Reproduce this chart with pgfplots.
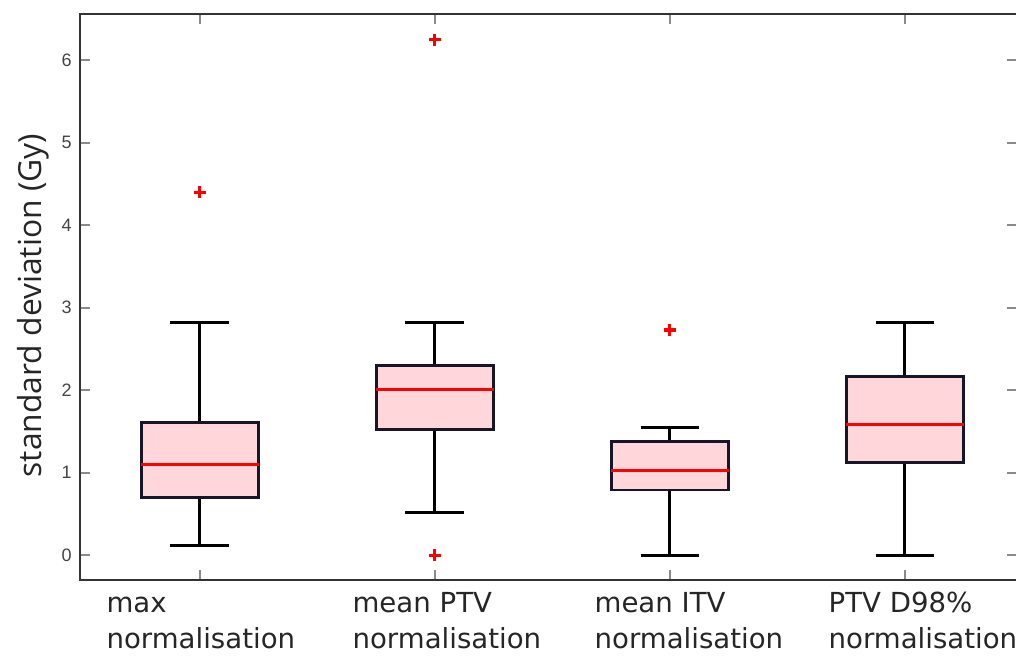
\documentclass[border=0pt]{standalone}
\usepackage{fontspec}
\setmainfont{DejaVu Sans}
\newfontfamily\tickfont{Liberation Sans}
\newfontfamily\ylabfont{Open Sans}
\usepackage{pgfplots}
\pgfplotsset{compat=1.18}
\usepgfplotslibrary{statistics}

\definecolor{boxfill}{HTML}{FFD6D9}
\definecolor{boxedge}{HTML}{16162A}
\definecolor{axisgray}{HTML}{333333}
\definecolor{tickgray}{HTML}{8A8A8A}
\definecolor{numgray}{HTML}{444444}

\begin{document}
\begin{tikzpicture}
\begin{axis}[
    name=ax,
    scale only axis,
    width=468.5pt, height=283pt,
    xmin=0.49, xmax=4.477,
    ymin=-0.30, ymax=6.56,
    axis line style={axisgray, line width=1.3pt},
    tick style={tickgray, line width=0.8pt},
    major tick length=5pt,
    tick align=inside,
    xtick={1,2,3,4},
    xticklabels={
      {\hspace*{1pt}\begin{tabular}{@{}l@{}}max\\normalisation\end{tabular}},
      {\hspace*{12pt}\begin{tabular}{@{}l@{}}mean PTV\\normalisation\end{tabular}},
      {\hspace*{19pt}\begin{tabular}{@{}l@{}}mean ITV\\normalisation\end{tabular}},
      {\hspace*{18pt}\begin{tabular}{@{}l@{}}PTV D98\%\\normalisation\end{tabular}}},
    xticklabel style={anchor=north, inner sep=0pt, yshift=-3.4pt,
      font=\fontsize{13.8}{18}\selectfont, color=black!85},
    ytick={0,1,2,3,4,5,6},
    yticklabel style={inner sep=0pt, xshift=-4pt,
      font=\tickfont\fontsize{9}{10}\selectfont, color=numgray},
    /pgf/number format/assume math mode=true,
    ylabel={standard deviation (Gy)},
    ylabel style={at={(ticklabel cs:0.485)}, inner sep=0pt, color=black!85,
      font=\ylabfont\fontsize{15.9}{18}\selectfont},
    ylabel shift=6pt,
    boxplot/draw direction=y,
    boxplot/box extend=0.5,
    boxplot/whisker extend=0.25,
    boxplot/every box/.style={draw=boxedge, fill=boxfill, line width=1.4pt},
    boxplot/every median/.style={draw=red, line width=1.5pt},
    boxplot/every whisker/.style={draw=black, line width=1.5pt},
    mark=+, mark size=3pt,
    mark options={draw=red, line width=1.6pt},
  ]
  % max normalisation
  \addplot[boxplot prepared={draw position=1,
      lower whisker=0.12, lower quartile=0.70, median=1.10,
      upper quartile=1.61, upper whisker=2.82},
    mark=+, mark options={draw=red, line width=1.6pt}]
    table[row sep=\\, y index=0] {data\\ 4.40\\};
  % mean PTV normalisation
  \addplot[boxplot prepared={draw position=2,
      lower whisker=0.52, lower quartile=1.52, median=2.01,
      upper quartile=2.30, upper whisker=2.82},
    mark=+, mark options={draw=red, line width=1.6pt}]
    table[row sep=\\, y index=0] {data\\ 6.25\\ 0.00\\};
  % mean ITV normalisation
  \addplot[boxplot prepared={draw position=3,
      lower whisker=0.00, lower quartile=0.79, median=1.03,
      upper quartile=1.38, upper whisker=1.55},
    mark=+, mark options={draw=red, line width=1.6pt}]
    table[row sep=\\, y index=0] {data\\ 2.73\\};
  % PTV D98% normalisation
  \addplot[boxplot prepared={draw position=4,
      lower whisker=0.00, lower quartile=1.12, median=1.59,
      upper quartile=2.17, upper whisker=2.82}]
    coordinates {};
\end{axis}
\pgfresetboundingbox
\path[use as bounding box] ([xshift=-40pt, yshift=-37.5pt]ax.south west)
  rectangle ++(508pt, 327.5pt);
\end{tikzpicture}
\end{document}
